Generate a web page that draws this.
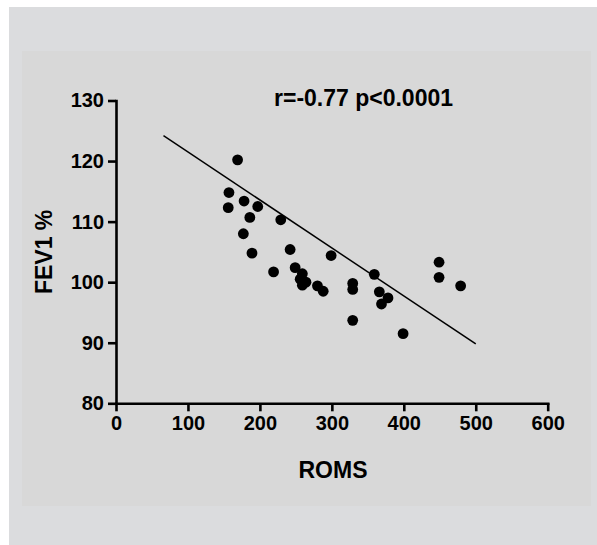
<!DOCTYPE html>
<html>
<head>
<meta charset="utf-8">
<script src="https://cdn.jsdelivr.net/npm/d3@7"></script>
<style>
  body { margin: 0; background: #ffffff; }
  svg text { font-family: "Liberation Sans", Arial, Helvetica, sans-serif; font-weight: bold; fill: #000; }
</style>
</head>
<body>
<script>
const {select, scaleLinear, axisBottom, axisLeft} = d3;

// ROMS vs FEV1 % values
const roms = [169, 157, 156, 178, 197, 186, 229, 177, 189, 242, 219, 249, 259, 299,
  256, 264, 259, 280, 288, 329, 329, 329, 359, 366, 378, 369, 399, 449, 449, 479];
const fev1 = [120.2, 114.8, 112.3, 113.4, 112.5, 110.7, 110.3, 108.0, 104.8, 105.4, 101.7, 102.4, 101.4, 104.4,
  100.5, 100.0, 99.5, 99.4, 98.5, 99.8, 98.8, 93.7, 101.3, 98.4, 97.4, 96.4, 91.5, 103.3, 100.8, 99.4];

// regression line endpoints
const fitX = [66, 500];
const fitY = [124.2, 89.8];

const xTicks = [0, 100, 200, 300, 400, 500, 600];
const yTicks = [80, 90, 100, 110, 120, 130];
const annotation = 'r=-0.77 p<0.0001';

const width = 597;
const height = 545;

const svg = select('body')
    .append('svg')
    .attr('width', width)
    .attr('height', height);

// outer and inner background panels
svg.append('rect')
    .attr('x', 9).attr('y', 7)
    .attr('width', width - 9).attr('height', height - 7)
    .attr('fill', '#dbdcde');
svg.append('rect')
    .attr('x', 22).attr('y', 51)
    .attr('width', 569).attr('height', 455)
    .attr('fill', '#d8d8d8');

const x = scaleLinear().domain([0, 600]).range([116, 547.7]);
const y = scaleLinear().domain([80, 130]).range([403.3, 100.5]);

const xAxis = svg.append('g')
    .attr('transform', `translate(0,${y(80)})`)
    .call(axisBottom(x).tickValues(xTicks).tickSize(8).tickSizeOuter(0).tickPadding(5));

const yAxis = svg.append('g')
    .attr('transform', `translate(${x(0)},0)`)
    .call(axisLeft(y).tickValues(yTicks).tickSize(8).tickSizeOuter(0).tickPadding(4));

[xAxis, yAxis].forEach(g => {
    g.selectAll('path.domain')
        .attr('stroke', '#000')
        .attr('stroke-width', 2.6)
        .attr('stroke-linecap', 'square');
    g.selectAll('.tick line')
        .attr('stroke', '#000')
        .attr('stroke-width', 2.6);
    g.selectAll('.tick text')
        .style('font-size', '20px')
        .style('font-family', '"Liberation Sans", Arial, sans-serif')
        .style('font-weight', 'bold')
        .attr('fill', '#000');
});

// regression line
svg.append('line')
    .attr('x1', x(fitX[0])).attr('y1', y(fitY[0]))
    .attr('x2', x(fitX[1])).attr('y2', y(fitY[1]))
    .attr('stroke', '#000')
    .attr('stroke-width', 1.5);

svg.selectAll('circle.pt')
    .data(roms.map((r, i) => ({r, f: fev1[i]})))
    .enter()
    .append('circle')
    .attr('class', 'pt')
    .attr('cx', d => x(d.r))
    .attr('cy', d => y(d.f))
    .attr('r', 5.4)
    .attr('fill', '#000');

svg.append('text')
    .attr('x', 274)
    .attr('y', 106)
    .style('font-size', '23px')
    .text(annotation);

svg.append('text')
    .attr('x', 333)
    .attr('y', 478)
    .attr('text-anchor', 'middle')
    .style('font-size', '23px')
    .text('ROMS');

svg.append('text')
    .attr('transform', `translate(52,${(y(80) + y(130)) / 2}) rotate(-90)`)
    .attr('text-anchor', 'middle')
    .style('font-size', '23px')
    .text('FEV1 %');
</script>
</body>
</html>
